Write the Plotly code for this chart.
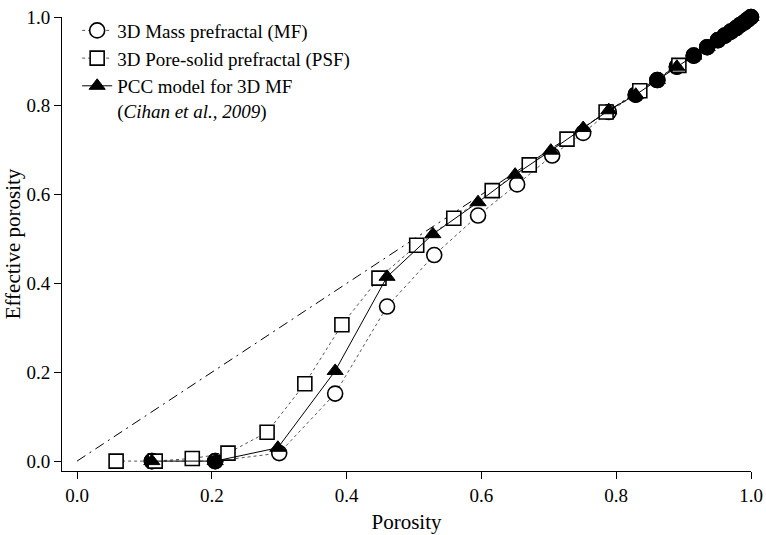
import plotly.graph_objects as go

# ---- data ----
mf_x = [0.111, 0.205, 0.300, 0.383, 0.460, 0.530, 0.595, 0.653, 0.705, 0.751,
        0.789, 0.829, 0.861, 0.890, 0.915, 0.935, 0.951, 0.961, 0.970, 0.978,
        0.984, 0.990, 0.995, 1.000]
mf_y = [0.000, 0.000, 0.018, 0.152, 0.348, 0.464, 0.553, 0.623, 0.688, 0.739,
        0.786, 0.825, 0.858, 0.888, 0.913, 0.932, 0.948, 0.958, 0.967, 0.975,
        0.982, 0.988, 0.994, 1.000]

psf_x = [0.058, 0.116, 0.171, 0.224, 0.282, 0.338, 0.393, 0.448, 0.504, 0.559,
         0.616, 0.671, 0.727, 0.785, 0.835, 0.893]
psf_y = [0.000, 0.000, 0.006, 0.018, 0.065, 0.174, 0.307, 0.412, 0.486, 0.547,
         0.609, 0.667, 0.725, 0.786, 0.834, 0.891]

pcc_x = [0.111, 0.205, 0.298, 0.383, 0.460, 0.528, 0.595, 0.650, 0.703, 0.751,
         0.789, 0.829, 0.861, 0.890, 0.915, 0.935, 0.951, 0.961, 0.970, 0.978,
         0.984, 0.990, 0.995, 1.000]
pcc_y = [0.000, 0.000, 0.030, 0.203, 0.415, 0.511, 0.583, 0.645, 0.699, 0.750,
         0.790, 0.825, 0.858, 0.888, 0.913, 0.932, 0.948, 0.958, 0.967, 0.975,
         0.982, 0.988, 0.994, 1.000]

ref_x = [0.0, 1.0]
ref_y = [0.0, 1.0]

x_ticks = [0.0, 0.2, 0.4, 0.6, 0.8, 1.0]
y_ticks = [0.0, 0.2, 0.4, 0.6, 0.8, 1.0]

FONT = "Liberation Serif, Times New Roman, serif"

# circles look filled where the PCC triangle sits on them
pcc_lookup = dict(zip(pcc_x, pcc_y))
ov_x, ov_y = [], []
for x, y in zip(mf_x, mf_y):
    py = pcc_lookup.get(x)
    if py is not None and abs(py - y) < 0.004:
        ov_x.append(x)
        ov_y.append(y)

fig = go.Figure()

fig.add_trace(go.Scatter(
    x=ref_x, y=ref_y, mode="lines", showlegend=False,
    line=dict(color="black", width=1, dash="10px,5px,2px,5px"),
    hoverinfo="skip"))

fig.add_trace(go.Scatter(
    x=mf_x, y=mf_y, mode="lines+markers", name="3D Mass prefractal (MF)",
    line=dict(color="#555555", width=1, dash="dot"),
    marker=dict(symbol="circle", size=15, color="white",
                line=dict(color="black", width=1.6)),
    cliponaxis=False))

fig.add_trace(go.Scatter(
    x=ov_x, y=ov_y, mode="markers", showlegend=False, hoverinfo="skip",
    marker=dict(symbol="circle", size=15, color="black",
                line=dict(color="black", width=1.6)),
    cliponaxis=False))

fig.add_trace(go.Scatter(
    x=psf_x, y=psf_y, mode="lines+markers", name="3D Pore-solid prefractal (PSF)",
    line=dict(color="#555555", width=1, dash="dot"),
    marker=dict(symbol="square", size=14, color="white",
                line=dict(color="black", width=1.6)),
    cliponaxis=False))

fig.add_trace(go.Scatter(
    x=pcc_x, y=pcc_y, mode="lines+markers",
    name="PCC model for 3D MF<br>(<i>Cihan et al., 2009</i>)",
    line=dict(color="black", width=1),
    marker=dict(symbol="triangle-up", size=14, color="black",
                line=dict(color="black", width=1)),
    cliponaxis=False))

fig.update_layout(
    width=766, height=535,
    margin=dict(l=62, r=15, t=13, b=64),
    paper_bgcolor="white", plot_bgcolor="white",
    font=dict(family=FONT, size=19, color="black"),
    showlegend=True,
    legend=dict(x=0.022, y=1.012, xanchor="left", yanchor="top",
                bgcolor="rgba(0,0,0,0)", font=dict(family=FONT, size=19, color="black"),
                valign="top"),
    xaxis=dict(range=[-0.0223, 1.0], tickvals=x_ticks, tickformat=".1f",
               showline=True, linecolor="black", linewidth=1,
               ticks="outside", ticklen=7, tickcolor="black",
               showgrid=False, zeroline=False, automargin=False,
               tickfont=dict(family=FONT, size=19, color="black"),
               title=dict(text="Porosity", font=dict(family=FONT, size=21, color="black"), standoff=9)),
    yaxis=dict(range=[-0.0223, 1.0], tickvals=y_ticks, tickformat=".1f",
               showline=True, linecolor="black", linewidth=1,
               ticks="outside", ticklen=7, tickcolor="black",
               showgrid=False, zeroline=False, automargin=False,
               tickfont=dict(family=FONT, size=19, color="black"),
               title=dict(text="Effective porosity", font=dict(family=FONT, size=21, color="black"), standoff=0)),
)

fig.write_html("out.html")
